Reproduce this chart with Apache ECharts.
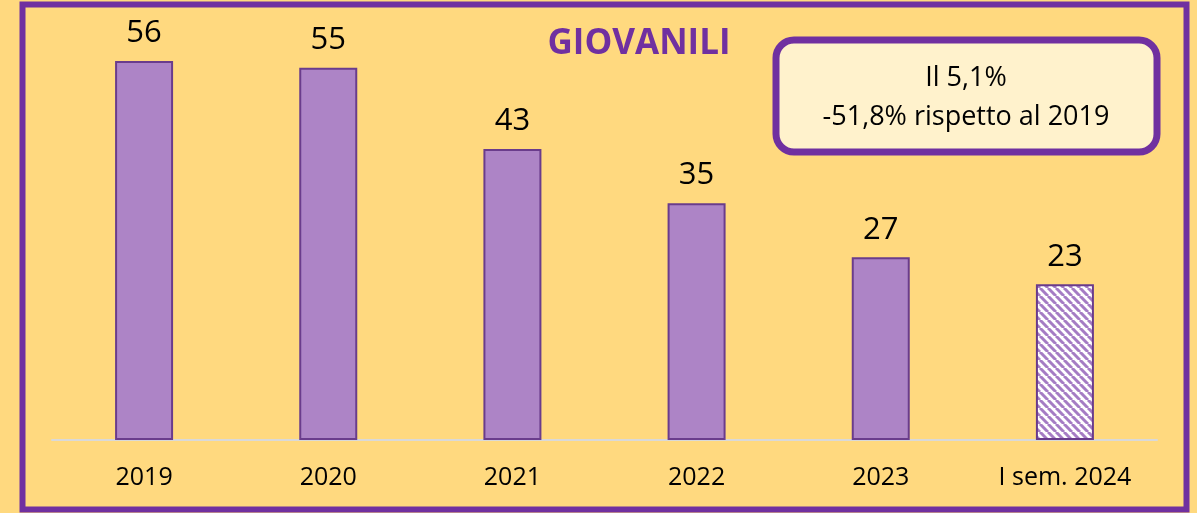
<!DOCTYPE html>
<html>
<head>
<meta charset="utf-8">
<script src="https://cdn.jsdelivr.net/npm/echarts@6/dist/echarts.min.js"></script>
<style>
html,body{margin:0;padding:0;background:#FFD97F;}
#chart{width:1197px;height:513px;}
</style>
</head>
<body>
<div id="chart"></div>
<script>
const categories = ['2019', '2020', '2021', '2022', '2023', 'I sem. 2024'];
const values = [56, 55, 43, 35, 27, 23];
const hatchedIndex = 5;
const titleText = 'GIOVANILI';
const noteLines = ['Il 5,1%', '-51,8% rispetto al 2019'];

const purple = '#7030A0';
const barFill = '#AD84C6';
const barBorder = '#6A3C8C';
const fontFam = '"Open Sans", "Noto Sans", sans-serif';

function makePattern() {
  const c = document.createElement('canvas');
  c.width = 8; c.height = 8;
  const ctx = c.getContext('2d');
  ctx.fillStyle = '#ffffff';
  ctx.fillRect(0, 0, 8, 8);
  ctx.strokeStyle = '#A57CC4';
  ctx.lineWidth = 3;
  for (const off of [-8, 0, 8]) {
    ctx.beginPath();
    ctx.moveTo(off, 0);
    ctx.lineTo(off + 8, 8);
    ctx.stroke();
  }
  return c;
}

const chart = echarts.init(document.getElementById('chart'), null, {renderer: 'canvas'});

const data = values.map((v, i) => {
  if (i === hatchedIndex) {
    return {value: v, itemStyle: {color: {image: makePattern(), repeat: 'repeat'}}};
  }
  return v;
});

chart.setOption({
  backgroundColor: '#FFD97F',
  animation: false,
  grid: {left: 52, right: 40, top: 34, bottom: 73},
  xAxis: {
    type: 'category',
    data: categories,
    axisLine: {lineStyle: {color: '#D9D9D9', width: 2}},
    axisTick: {show: false},
    axisLabel: {color: '#000', fontSize: 25, fontFamily: fontFam, margin: 25}
  },
  yAxis: {
    type: 'value', min: 0, max: 60,
    show: false,
    splitLine: {show: false}
  },
  series: [{
    type: 'bar',
    data: data,
    barWidth: 58,
    itemStyle: {color: barFill, borderColor: barBorder, borderWidth: 2},
    label: {
      show: true, position: 'top', distance: 12,
      color: '#000', fontSize: 31, fontFamily: fontFam
    }
  }],
  graphic: [
    {
      type: 'rect', silent: true,
      shape: {x: 22.5, y: 4.5, width: 1164, height: 505},
      style: {fill: 'none', stroke: purple, lineWidth: 6}
    },
    {
      type: 'text', silent: true,
      x: 639, y: 44,
      style: {
        text: titleText, fill: purple, font: 'bold 35px ' + fontFam,
        textAlign: 'center', textVerticalAlign: 'middle'
      }
    },
    {
      type: 'rect', silent: true,
      shape: {x: 776, y: 40, width: 381, height: 112, r: 18},
      style: {fill: '#FFF2CC', stroke: purple, lineWidth: 7}
    },
    {
      type: 'text', silent: true,
      x: 966, y: 78,
      style: {
        text: noteLines[0], fill: '#000', font: '27px ' + fontFam,
        textAlign: 'center', textVerticalAlign: 'middle'
      }
    },
    {
      type: 'text', silent: true,
      x: 966, y: 117,
      style: {
        text: noteLines[1], fill: '#000', font: '27px ' + fontFam,
        textAlign: 'center', textVerticalAlign: 'middle'
      }
    }
  ]
});
</script>
</body>
</html>
